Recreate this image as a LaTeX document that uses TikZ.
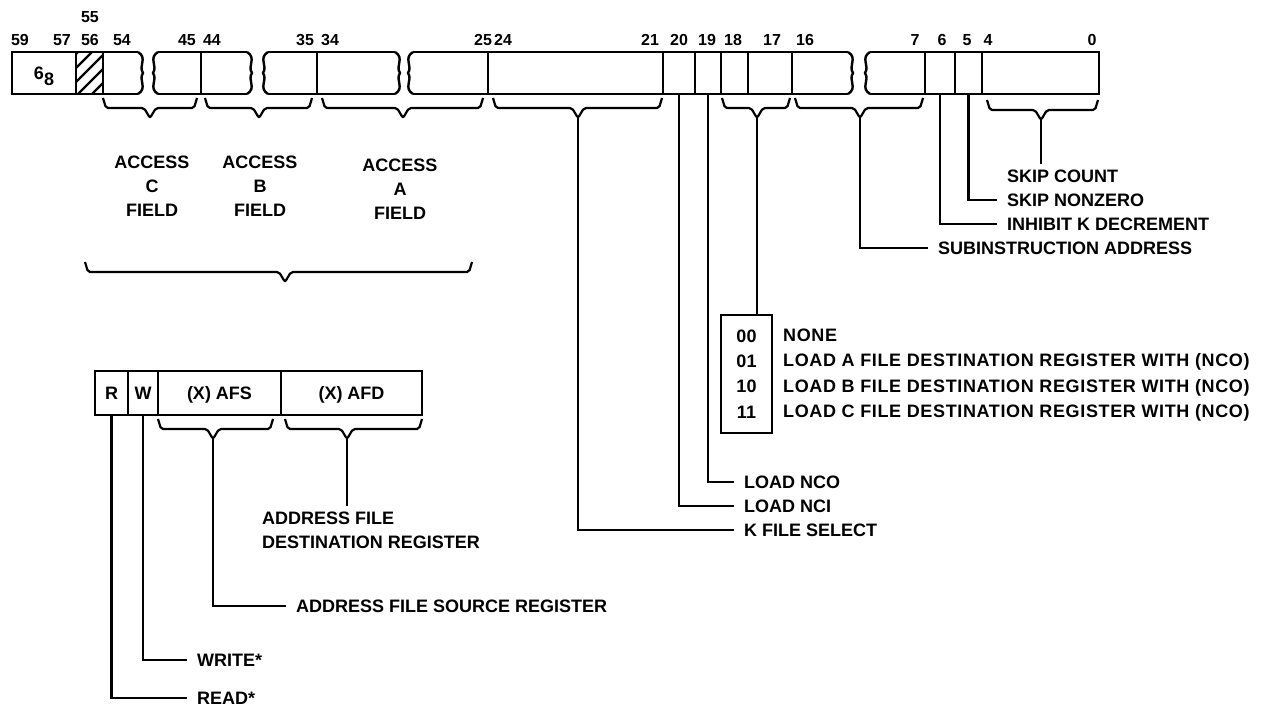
\documentclass[tikz,border=0pt]{standalone}
\usepackage{fontspec}
\setmainfont{Liberation Sans}
\usetikzlibrary{positioning}
\newcommand{\lbl}{\fontsize{18}{24}\selectfont\bfseries}
\newcommand{\tbl}{\fontsize{18}{25.3}\selectfont\bfseries}
\newcommand{\numfont}{\fontsize{16}{18}\selectfont\bfseries}
% field brace: name, left x, tip x, right x, top y
\newcommand{\fbrace}[5]{%
  \draw[fbr] (#2,#5) -- (#2+3,#5+10) -- (#3-6,#5+10) -- (#3,#5+20) coordinate (#1)
    -- (#3+6,#5+10) -- (#4-3,#5+10) -- (#4,#5);}
\tikzset{%
  cell/.style = {rectangle, draw, line width=2.4pt, inner sep=0pt, outer sep=0pt,
                 minimum height=42pt, font=\lbl, text height=13pt, text depth=0pt},
  table/.style = {rectangle, draw, line width=2.4pt, inner sep=0pt, outer sep=0pt,
                 align=center, font=\tbl},
  reg/.style  = {line width=2.4pt},
  fbr/.style  = {line width=2.2pt, rounded corners=2pt},
  wire/.style = {line width=2.2pt},
  num/.style  = {font=\numfont, inner sep=0pt},
  note/.style = {font=\lbl, inner xsep=10pt, inner ysep=0pt, anchor=west,
                 text height=13pt, text depth=0pt},
  brk/.pic    = {\draw[reg] (0,0) .. controls (10,6) and (0,14) .. (5,21)
                   .. controls (0,28) and (10,36) .. (0,42);}
}

\begin{document}
\begin{tikzpicture}[x=1pt, y=-1pt]
    \useasboundingbox (0,0) rectangle (1262,707);

    % upper word
    \node (c68)    [cell, minimum width=64pt, anchor=north west] at (12,52) {6\raisebox{-0.6ex}{8}};
    \node (chatch) [cell, minimum width=27pt, right=0pt of c68] {};
    \begin{scope}
      \clip (chatch.south west) rectangle (chatch.north east);
      \foreach \k in {-40,-26,...,40}
        \draw[reg] ([xshift=\k pt]chatch.south west) -- ++(42,-42);
    \end{scope}
    \draw[reg] (chatch.north east) -- (138,52) (chatch.south east) -- (138,94);
    \pic at (138,52) {brk};

    \draw[reg] (158,52) -- (247,52) (158,94) -- (247,94) (201,52) -- (201,94);
    \pic[xscale=-1] at (158,52) {brk};
    \pic at (247,52) {brk};
    \draw[reg] (268,52) -- (395,52) (268,94) -- (395,94) (317,52) -- (317,94);
    \pic[xscale=-1] at (268,52) {brk};
    \pic at (395,52) {brk};

    \node (c2421) [cell, minimum width=175pt, anchor=north west] at (488,52) {};
    \node (c20)   [cell, minimum width=32pt, right=0pt of c2421] {};
    \node (c19)   [cell, minimum width=26pt, right=0pt of c20] {};
    \node (c18)   [cell, minimum width=27pt, right=0pt of c19] {};
    \node (c17)   [cell, minimum width=44pt, right=0pt of c18] {};
    \draw[reg] (413,52) -- (c2421.north west) (413,94) -- (c2421.south west);
    \pic[xscale=-1] at (413,52) {brk};
    \draw[reg] (c17.north east) -- (848,52) (c17.south east) -- (848,94);
    \pic at (848,52) {brk};

    \node (c6)  [cell, minimum width=30pt, anchor=north west] at (925,52) {};
    \node (c5)  [cell, minimum width=27pt, right=0pt of c6] {};
    \node (c40) [cell, minimum width=117pt, right=0pt of c5] {};
    \draw[reg] (870,52) -- (c6.north west) (870,94) -- (c6.south west);
    \pic[xscale=-1] at (870,52) {brk};

    % bit numbers
    \foreach \x/\t in {20/59, 62/57, 90/56, 122/54, 187/45, 212/44, 305/35, 330/34,
                       483/25, 503/24, 650/21, 679/20, 707/19, 733/18, 772/17, 805/16,
                       915/7, 942/6, 967/5, 988/4, 1092/0}
      \node (n\t) [num] at (\x,40) {\t};
    \node (n55) [num] at (90,17) {55};

    % field braces
    \fbrace{bC}{103}{150}{197}{98}
    \fbrace{bB}{205}{259}{312}{98}
    \fbrace{bA}{322}{403}{483}{98}
    \fbrace{bK}{493}{578}{662}{98}
    \fbrace{bD}{722}{757}{790}{98}
    \fbrace{bS}{795}{860}{923}{98}
    \fbrace{bSC}{987}{1041}{1098}{100}

    \node (accC) [align=center, font=\lbl] at (152,186) {ACCESS\\C\\FIELD};
    \node (accB) [align=center, font=\lbl] at (260,186) {ACCESS\\B\\FIELD};
    \node (accA) [align=center, font=\lbl] at (400,189) {ACCESS\\A\\FIELD};
    \fbrace{bAll}{85}{285}{472}{262}

    % field notes
    \node (skc) [note] at (997,176) {SKIP COUNT};
    \node (snz) [note] at (997,200) {SKIP NONZERO};
    \node (inh) [note] at (997,224) {INHIBIT K DECREMENT};
    \node (sub) [note] at (928,248) {SUBINSTRUCTION ADDRESS};
    \node (nco) [note] at (734,482) {LOAD NCO};
    \node (nci) [note] at (734,506) {LOAD NCI};
    \node (kfs) [note] at (734,530) {K FILE SELECT};
    \coordinate (skctop) at ([yshift=5pt]skc.north);

    \node (codes) [table, minimum width=51pt, minimum height=118pt, anchor=north west]
      at (721,315) {00\\01\\10\\11};
    \node (dsc) [anchor=west, align=left, inner sep=0pt,
                 font=\tbl\addfontfeatures{LetterSpace=3.5}] at (783,375)
      {NONE\\LOAD A FILE DESTINATION REGISTER WITH (NCO)\\
       LOAD B FILE DESTINATION REGISTER WITH (NCO)\\
       LOAD C FILE DESTINATION REGISTER WITH (NCO)};

    % lower word
    \node (cR)   [cell, minimum width=33pt, minimum height=44pt, anchor=north west] at (95,371) {R};
    \node (cW)   [cell, minimum width=30pt, minimum height=44pt, right=0pt of cR] {W};
    \node (cAFS) [cell, minimum width=123pt, minimum height=44pt, right=0pt of cW] {(X) AFS};
    \node (cAFD) [cell, minimum width=141pt, minimum height=44pt, right=0pt of cAFS] {(X) AFD};
    \fbrace{bAFS}{158}{213}{273}{419}
    \fbrace{bAFD}{285}{347}{422}{419}

    \node (afd) [anchor=north west, align=left, inner xsep=0pt, inner ysep=6pt, font=\lbl]
      at (262,506) {ADDRESS FILE\\DESTINATION REGISTER};
    \node (afs) [note] at (286,606) {ADDRESS FILE SOURCE REGISTER};
    \node (wr)  [note] at (187,660) {WRITE*};
    \node (rd)  [note] at (187,698) {READ*};

    \draw[wire] (bSC)      -- (bSC |- skctop)
                (c5.south) |- (snz.west)
                (c6.south) |- (inh.west)
                (bS)       |- (sub.west)
                (bD)       -- (bD |- codes.north)
                (c19.south) |- (nco.west)
                (c20.south) |- (nci.west)
                (bK)       |- (kfs.west)
                (bAFD)     -- (bAFD |- afd.north)
                (bAFS)     |- (afs.west)
                (cW.south) |- (wr.west)
                (cR.south) |- (rd.west);
\end{tikzpicture}
\end{document}
